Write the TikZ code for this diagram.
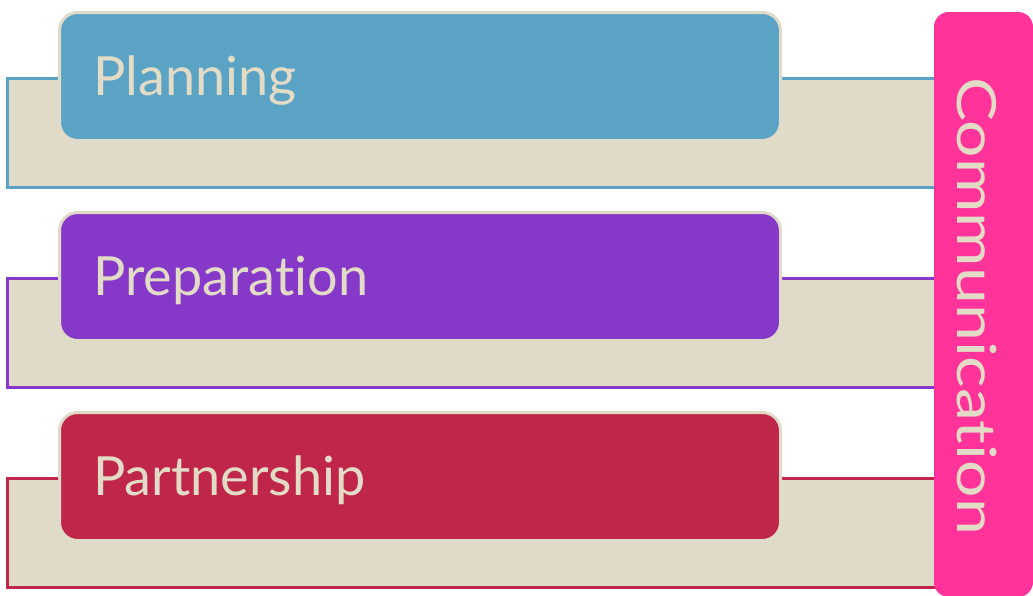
\documentclass[tikz,border=0pt]{standalone}
\usepackage{fontspec}
\setmainfont{Lato}[Ligatures=NoCommon]
\definecolor{cblue}{HTML}{5BA3C5}
\definecolor{cpurple}{HTML}{8639C9}
\definecolor{ccrimson}{HTML}{C0264A}
\definecolor{cpink}{HTML}{FF3399}
\definecolor{cbeige}{HTML}{E0DBC9}
\definecolor{ctext}{HTML}{E2DCC6}
\begin{document}
\begin{tikzpicture}[x=1pt,y=-1pt,
  band/.style={line width=3pt,fill=cbeige},
  stagebox/.style={rounded corners=18pt,draw=cbeige,line width=3pt,minimum width=721pt,minimum height=128pt,inner sep=0pt},
  label/.style={anchor=base west,inner sep=0pt,text=ctext,font=\fontsize{54}{60}\selectfont},
]
\useasboundingbox (0,0) rectangle (1033,595);
\begin{scope}
\clip (0,0) rectangle (1033,595);
% bands
\draw[band,draw=cblue] (7,78) rectangle (1000,187);
\draw[band,draw=cpurple] (7,278) rectangle (1000,387);
\draw[band,draw=ccrimson] (7,478) rectangle (1000,587);
% stage boxes
\node[stagebox,fill=cblue] (plan) at (420,76.5) {};
\node[stagebox,fill=cpurple] (prep) at (420,276.5) {};
\node[stagebox,fill=ccrimson] (part) at (420,476.5) {};
\node[label] (plant) at (93,95) {Planning};
\node[label] (prept) at (93,295) {Preparation};
\node[label] (partt) at (93,495) {Partnership};
% communication
\fill[cpink,rounded corners=15pt] (934,12) rectangle (1033,597);
\node[label,rotate=-90] (comm) at (957,77) {\scalebox{1.225}[1]{Communication}};
\end{scope}
\end{tikzpicture}
\end{document}
